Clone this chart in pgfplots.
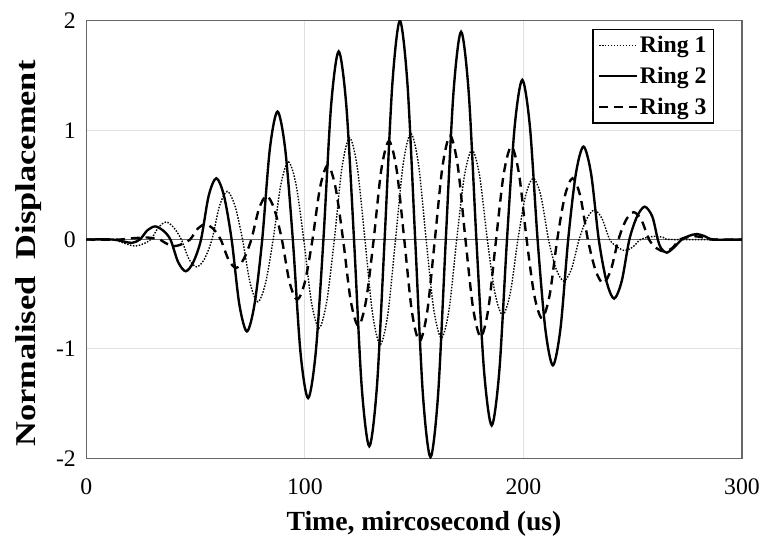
\documentclass[border=0pt]{standalone}
\usepackage{fontspec}
\setmainfont{Liberation Serif}
\usepackage{graphicx}
\usepackage{pgfplots}
\pgfplotsset{compat=1.18}

\begin{document}
\begin{tikzpicture}
\begin{axis}[
  width=661bp, height=441bp, scale only axis,
  xmin=0, xmax=300, ymin=-2, ymax=2,
  xtick={0,100,200,300}, ytick={-2,-1,0,1,2},
  grid=major,
  major grid style={color=black!12, line width=0.9bp},
  axis line style={color=black!60, line width=1.3bp},
  tick style={draw=none},
  /pgf/number format/assume math mode=true,
  tick label style={font=\fontsize{24}{28}\selectfont},
  xticklabel style={yshift=-17bp},
  yticklabel style={xshift=-7bp},
  extra y ticks={0}, extra y tick labels={},
  extra y tick style={major grid style={color=black!60, line width=1.2bp}},
  xlabel={Time, mircosecond (us)},
  ylabel={\scalebox{1.2}[1]{Normalised\ \ Displacement}},
  xlabel style={font=\bfseries\fontsize{28}{32}\selectfont, yshift=-10bp, xshift=10bp},
  ylabel style={font=\bfseries\fontsize{29}{32}\selectfont, yshift=8bp, xshift=-14bp},
  legend style={at={(0.9577,0.9819)}, anchor=north east, draw=black,
    line width=1.6bp, font=\bfseries\fontsize{24}{27}\selectfont,
    inner xsep=5bp, inner ysep=5bp, row sep=9bp, cells={anchor=west}},
  legend image code/.code={\draw[#1] (0bp,0bp) -- (38bp,0bp);},
]
% Ring 1: dotted trace
\addplot[black, line width=1.4bp, dash pattern=on 1.5bp off 1.5bp, smooth] coordinates {
(0,0) (12,0) (15.5,-0.02) (19,-0.045) (22.5,-0.06) (26,-0.04) (29.5,0) (33,0.11) (36.5,0.16) (40,0.11) (43.5,0)
(47,-0.18) (50.5,-0.25) (54,-0.18) (57.5,0) (61,0.31) (64.5,0.44) (68,0.31) (71.5,0)
(75,-0.40) (78.5,-0.57) (82,-0.40) (85.5,0) (89,0.50) (92.5,0.71) (96,0.50) (99.5,0)
(103,-0.57) (106.5,-0.81) (110,-0.57) (113.5,0) (117,0.66) (120.5,0.93) (124,0.66) (127.5,0)
(131,-0.68) (134.5,-0.96) (138,-0.68) (141.5,0) (145,0.69) (148.5,0.97) (152,0.69) (155.5,0)
(159,-0.64) (162.5,-0.90) (166,-0.64) (169.5,0) (173,0.58) (176.5,0.82) (180,0.58) (183.5,0)
(187,-0.49) (190.5,-0.69) (194,-0.49) (197.5,0) (201,0.40) (204.5,0.56) (208,0.40) (211.5,0)
(215,-0.27) (218.5,-0.38) (222,-0.27) (225.5,0) (229,0.19) (232.5,0.27) (236,0.19) (239.5,0)
(243,-0.07) (246.5,-0.10) (250,-0.07) (253.5,0) (257,0.02) (260.5,0.03) (264,0.02) (268,0) (300,0)
};
\addlegendentry{Ring 1}
% Ring 2: solid trace
\addplot[black, line width=2.4bp, smooth] coordinates {
(0,0) (12,0) (17.5,-0.02) (21,-0.03) (24.5,0) (28,0.085) (31.5,0.12) (35,0.085) (38.5,0)
(42,-0.205) (45.5,-0.29) (49,-0.205) (52.5,0) (56,0.40) (59.5,0.56) (63,0.40) (66.5,0)
(70,-0.59) (73.5,-0.84) (77,-0.59) (80.5,0) (84,0.83) (87.5,1.17) (91,0.83) (94.5,0)
(98,-1.03) (101.5,-1.45) (105,-1.03) (108.5,0) (112,1.22) (115.5,1.72) (119,1.22) (122.5,0)
(126,-1.34) (129.5,-1.89) (133,-1.34) (136.5,0) (140,1.41) (143.5,2.0) (147,1.41) (150.5,0)
(154,-1.41) (157.5,-1.99) (161,-1.41) (164.5,0) (168,1.34) (171.5,1.90) (175,1.34) (178.5,0)
(182,-1.20) (185.5,-1.70) (189,-1.20) (192.5,0) (196,1.03) (199.5,1.46) (203,1.03) (206.5,0)
(210,-0.81) (213.5,-1.15) (217,-0.81) (220.5,0) (224,0.60) (227.5,0.85) (231,0.60) (234.5,0)
(238,-0.38) (241.5,-0.54) (245,-0.38) (248.5,0) (252,0.21) (255.5,0.30) (259,0.21) (261.5,0)
(263,-0.08) (265.5,-0.12) (268.5,-0.08) (272.5,0) (276,0.035) (279.5,0.05) (283,0.03) (287,0) (300,0)
};
\addlegendentry{Ring 2}
% Ring 3: dashed trace
\addplot[black, line width=2.4bp, dash pattern=on 9bp off 6bp, smooth] coordinates {
(0,0) (15,0) (19.5,0.01) (23,0.014) (26.5,0.02) (30,0.014) (33.5,0) (37,-0.04) (40.5,-0.06) (44,-0.04) (47.5,0)
(51,0.10) (54.5,0.14) (58,0.10) (61.5,0) (65,-0.18) (68.5,-0.26) (72,-0.18) (75.5,0)
(79,0.28) (82.5,0.40) (86,0.28) (89.5,0) (93,-0.39) (96.5,-0.55) (100,-0.39) (103.5,0)
(107,0.48) (110.5,0.68) (114,0.48) (117.5,0) (121,-0.56) (124.5,-0.79) (128,-0.56) (131.5,0)
(135,0.64) (138.5,0.90) (142,0.64) (145.5,0) (149,-0.66) (152.5,-0.93) (156,-0.66) (159.5,0)
(163,0.67) (166.5,0.95) (170,0.67) (173.5,0) (177,-0.63) (180.5,-0.89) (184,-0.63) (187.5,0)
(191,0.60) (194.5,0.85) (198,0.60) (201.5,0) (205,-0.51) (208.5,-0.72) (212,-0.51) (215.5,0)
(219,0.40) (222.5,0.56) (226,0.40) (229.5,0) (233,-0.28) (236.5,-0.40) (240,-0.28) (243.5,0)
(247,0.18) (250.5,0.25) (254,0.18) (257.5,0) (261,-0.08) (264.5,-0.11) (268,-0.08) (271.5,0)
(275,0.02) (278.5,0.03) (282,0.02) (286,0) (300,0)
};
\addlegendentry{Ring 3}
\end{axis}
\path ([shift={(-87bp,-83bp)}]current axis.south west) rectangle ([shift={(15bp,21bp)}]current axis.north east);
\end{tikzpicture}
\end{document}
